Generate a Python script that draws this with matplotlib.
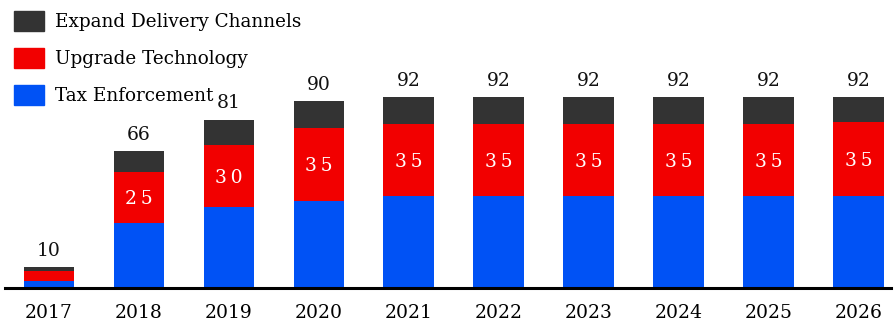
import matplotlib.pyplot as plt
from matplotlib.patches import Patch

# Data
years = ['2017', '2018', '2019', '2020', '2021', '2022', '2023', '2024', '2025', '2026']
tax_enforcement = [3, 31, 39, 42, 44, 44, 44, 44, 44, 44]
upgrade_tech = [5, 25, 30, 35, 35, 35, 35, 35, 35, 35.7]
expand_delivery = [2, 10, 12, 13, 13, 13, 13, 13, 13, 12.3]

c_dark = '#333333'
c_red = '#F20000'
c_blue = '#0052F5'

plt.rcParams['font.family'] = ['DejaVu Serif']

fig = plt.figure(figsize=(8.96, 3.24), dpi=100)
ax = fig.add_axes([5 / 896, 36.5 / 324, 886 / 896, 287.5 / 324])

x = range(len(years))
w = 0.565
bottom2 = [a + b for a, b in zip(tax_enforcement, upgrade_tech)]
totals = [a + b for a, b in zip(bottom2, expand_delivery)]

ax.bar(x, tax_enforcement, width=w, color=c_blue)
ax.bar(x, upgrade_tech, width=w, bottom=tax_enforcement, color=c_red)
ax.bar(x, expand_delivery, width=w, bottom=bottom2, color=c_dark)

# red segment labels (spaced digits), only for the bigger segments
for i in x:
    v = upgrade_tech[i]
    if v >= 10:
        label = '\u2009'.join(str(int(v)))
        ax.text(i, tax_enforcement[i] + v / 2 - 1, label, ha='center', va='center',
                color='white', fontsize=13.5)

# totals above the bars
for i in x:
    ax.text(i, totals[i] + 3.5, f"{round(totals[i])}", ha='center', va='bottom',
            color='#111111', fontsize=13.5)

ax.set_xlim(-0.49, 9.36)
ax.set_ylim(0, 138.8)
ax.set_xticks(list(x))
ax.set_xticklabels(years, fontsize=13.5)
ax.tick_params(axis='x', length=0, pad=12)
ax.set_yticks([])
for s in ['left', 'right', 'top']:
    ax.spines[s].set_visible(False)
ax.spines['bottom'].set_linewidth(2.2)
ax.spines['bottom'].set_color('black')

handles = [Patch(color=c_dark, label='Expand Delivery Channels'),
           Patch(color=c_red, label='Upgrade Technology'),
           Patch(color=c_blue, label='Tax Enforcement')]
fig.legend(handles=handles, loc='upper left', bbox_to_anchor=(0.002, 1.004),
           frameon=False, fontsize=13.2, handlelength=1.65, handleheight=1.3,
           handletextpad=0.6, labelspacing=0.93, borderaxespad=0.25)

plt.savefig('out.png', dpi=100)
